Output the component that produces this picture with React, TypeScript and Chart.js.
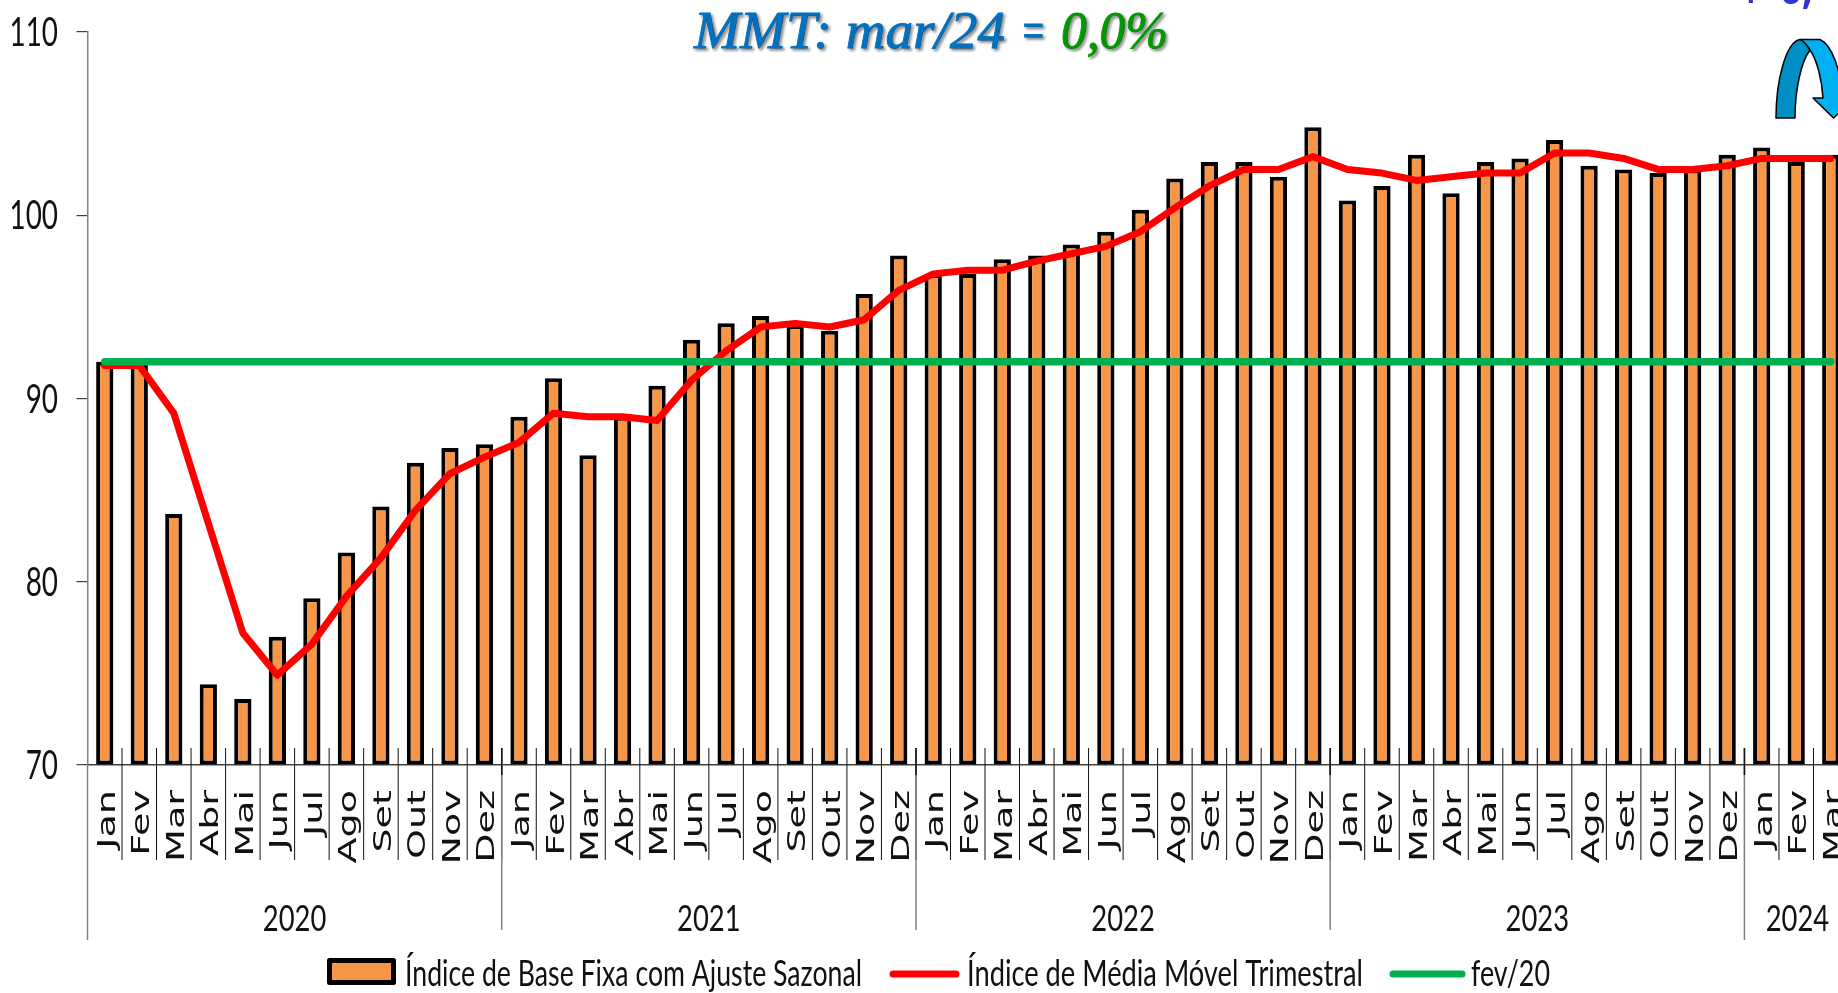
import React, { useEffect, useRef } from "react";
import { Chart, registerables } from "chart.js";

Chart.register(...registerables);

const months = [
  "Jan","Fev","Mar","Abr","Mai","Jun","Jul","Ago","Set","Out","Nov","Dez",
  "Jan","Fev","Mar","Abr","Mai","Jun","Jul","Ago","Set","Out","Nov","Dez",
  "Jan","Fev","Mar","Abr","Mai","Jun","Jul","Ago","Set","Out","Nov","Dez",
  "Jan","Fev","Mar","Abr","Mai","Jun","Jul","Ago","Set","Out","Nov","Dez",
  "Jan","Fev","Mar",
];
const years = ["2020", "2021", "2022", "2023", "2024"];
const yearLengths = [12, 12, 12, 12, 3];

const baseIndex = [
  92.0, 92.2, 83.7, 74.4, 73.6, 77.0, 79.1, 81.6, 84.1, 86.5, 87.3, 87.5,
  89.0, 91.1, 86.9, 89.0, 90.7, 93.2, 94.1, 94.5, 94.0, 93.7, 95.7, 97.8,
  96.8, 96.8, 97.6, 97.8, 98.4, 99.1, 100.3, 102.0, 102.9, 102.9, 102.1, 104.8,
  100.8, 101.6, 103.3, 101.2, 102.9, 103.1, 104.1, 102.7, 102.5, 102.3, 102.5, 103.3,
  103.7, 102.9, 103.3,
];
const movingAverage = [
  91.8, 91.8, 89.2, 83.2, 77.2, 74.9, 76.6, 79.2, 81.3, 83.9, 85.9, 86.8,
  87.6, 89.2, 89.0, 89.0, 88.8, 91.0, 92.6, 93.9, 94.1, 93.9, 94.3, 95.9,
  96.8, 97.0, 97.0, 97.5, 97.9, 98.3, 99.1, 100.4, 101.6, 102.5, 102.5, 103.2,
  102.5, 102.3, 101.9, 102.1, 102.3, 102.3, 103.4, 103.4, 103.1, 102.5, 102.5, 102.7,
  103.1, 103.1, 103.1,
];
const fev20 = [
  92, 92, 92, 92, 92, 92, 92, 92, 92, 92, 92, 92,
  92, 92, 92, 92, 92, 92, 92, 92, 92, 92, 92, 92,
  92, 92, 92, 92, 92, 92, 92, 92, 92, 92, 92, 92,
  92, 92, 92, 92, 92, 92, 92, 92, 92, 92, 92, 92,
  92, 92, 92,
];
const seriesNames = [
  "Índice de Base Fixa com Ajuste Sazonal",
  "Índice de Média Móvel Trimestral",
  "fev/20",
];

const ORANGE = "#F79646";
const RED = "#FF0000";
const GREEN = "#00B050";
const NARROW = "Lato, 'Open Sans', sans-serif";

function fitText(ctx: any, text: string, left: number, baseline: number, width: number, font: string, color: string, stroke = 0) {
  ctx.save();
  ctx.font = font;
  ctx.fillStyle = color;
  ctx.textAlign = "left";
  ctx.textBaseline = "alphabetic";
  const w = ctx.measureText(text).width;
  ctx.translate(left, baseline);
  ctx.scale(width / w, 1);
  if (stroke > 0) {
    ctx.strokeStyle = color;
    ctx.lineWidth = stroke;
    ctx.strokeText(text, 0, 0);
  }
  ctx.fillText(text, 0, 0);
  ctx.restore();
}

function centerText(ctx: any, text: string, cx: number, baseline: number, sx: number, font: string, color: string, align = "center") {
  ctx.save();
  ctx.font = font;
  ctx.fillStyle = color;
  ctx.textAlign = align;
  ctx.textBaseline = "alphabetic";
  ctx.translate(cx, baseline);
  ctx.scale(sx, 1);
  ctx.fillText(text, 0, 0);
  ctx.restore();
}

const decorPlugin = {
  id: "decor",
  afterDraw(chart: any) {
    const { ctx, scales } = chart;
    const x = scales.x;
    const y = scales.y;
    const axisY = y.getPixelForValue(70);
    const half = (x.getPixelForValue(1) - x.getPixelForValue(0)) / 2;

    // y tick labels
    y.ticks.forEach((t: any) => {
      const py = y.getPixelForValue(t.value);
      centerText(ctx, String(t.value), 58, py + 14, 0.68, `41px ${NARROW}`, "#111", "right");
    });

    // y axis continuation below the plot
    ctx.save();
    ctx.strokeStyle = "#808080";
    ctx.lineWidth = 1.5;
    ctx.beginPath();
    ctx.moveTo(x.left, axisY);
    ctx.lineTo(x.left, 940);
    ctx.stroke();
    ctx.restore();

    // month separators and labels
    months.forEach((m, i) => {
      const cx = x.getPixelForValue(i);
      const right = cx + half;
      ctx.save();
      ctx.strokeStyle = "#111";
      ctx.lineWidth = 1;
      ctx.beginPath();
      ctx.moveTo(right, 748);
      ctx.lineTo(right, 860);
      ctx.stroke();
      ctx.restore();

      ctx.save();
      ctx.translate(cx + 10, 790);
      ctx.rotate(-Math.PI / 2);
      ctx.scale(1.55, 1);
      ctx.font = "24.6px 'DejaVu Sans'";
      ctx.fillStyle = "#111";
      ctx.textAlign = "right";
      ctx.textBaseline = "alphabetic";
      ctx.fillText(m, 0, 0);
      ctx.restore();
    });

    // year separators and labels
    let start = 0;
    years.forEach((yr, i) => {
      const n = yearLengths[i];
      const left = x.getPixelForValue(start) - half;
      const right = x.getPixelForValue(start + n - 1) + half;
      if (start > 0) {
        ctx.save();
        ctx.strokeStyle = "#808080";
        ctx.lineWidth = 1.5;
        ctx.beginPath();
        ctx.moveTo(left, 748);
        ctx.lineTo(left, i === years.length - 1 ? 940 : 930);
        ctx.stroke();
        ctx.strokeStyle = "#111";
        ctx.beginPath();
        ctx.moveTo(left, 748);
        ctx.lineTo(left, 775);
        ctx.stroke();
        ctx.restore();
      }
      const cx = n === 3 ? left + 53 : (left + right) / 2;
      centerText(ctx, yr, cx, 931, 0.74, `37px ${NARROW}`, "#111");
      start += n;
    });

    // legend
    ctx.save();
    ctx.fillStyle = ORANGE;
    ctx.strokeStyle = "#000";
    ctx.lineWidth = 5;
    ctx.lineJoin = "round";
    ctx.beginPath();
    ctx.rect(329.5, 960.5, 64, 22);
    ctx.fill();
    ctx.stroke();
    ctx.lineCap = "round";
    ctx.lineWidth = 7;
    ctx.strokeStyle = RED;
    ctx.beginPath();
    ctx.moveTo(893, 974);
    ctx.lineTo(956, 974);
    ctx.stroke();
    ctx.strokeStyle = GREEN;
    ctx.beginPath();
    ctx.moveTo(1393, 974);
    ctx.lineTo(1462, 974);
    ctx.stroke();
    ctx.restore();
    const legendFont = `37px ${NARROW}`;
    fitText(ctx, chart.data.datasets[0].label, 405, 986, 457, legendFont, "#111");
    fitText(ctx, chart.data.datasets[1].label, 967, 986, 396, legendFont, "#111");
    fitText(ctx, chart.data.datasets[2].label, 1471, 986, 79, legendFont, "#111");

    // annotation with shadow
    ctx.save();
    ctx.shadowColor = "rgba(0,0,0,0.45)";
    ctx.shadowOffsetX = 2;
    ctx.shadowOffsetY = 2;
    ctx.shadowBlur = 3;
    const noteFont = "italic 52px 'Liberation Serif'";
    fitText(ctx, "MMT: mar/24", 694, 48, 311, noteFont, "#0070C0", 0.8);
    fitText(ctx, "=", 1020, 48, 26, noteFont, "#0070C0", 0.8);
    fitText(ctx, "0,0%", 1061, 48, 107, noteFont, "#009900", 0.8);
    ctx.restore();

    // clipped note at the top right
    const clipFont = "bold 38px 'Open Sans'";
    centerText(ctx, "+", 1740, 7, 1, clipFont, "#3333CC", "left");
    centerText(ctx, "0,", 1780, 4, 1, clipFont, "#3333CC", "left");
    centerText(ctx, "1%", 1830, 4, 1, clipFont, "#3333CC", "left");

    // curved arrow
    ctx.save();
    ctx.lineWidth = 1.5;
    ctx.strokeStyle = "#000";
    ctx.lineJoin = "round";
    ctx.fillStyle = "#00B0F0";
    ctx.beginPath();
    ctx.moveTo(1800, 39.5);
    ctx.lineTo(1820, 39.5);
    ctx.bezierCurveTo(1832, 45, 1841, 70, 1842, 98);
    ctx.lineTo(1856, 98);
    ctx.lineTo(1833.5, 118);
    ctx.lineTo(1813, 98);
    ctx.lineTo(1823, 98);
    ctx.bezierCurveTo(1822, 80, 1817, 60, 1810, 50);
    ctx.closePath();
    ctx.fill();
    ctx.stroke();
    ctx.fillStyle = "#008FC4";
    ctx.beginPath();
    ctx.moveTo(1776, 118);
    ctx.lineTo(1795, 118);
    ctx.bezierCurveTo(1795, 90, 1801, 62, 1810, 50);
    ctx.bezierCurveTo(1807, 45, 1804, 41, 1800, 39.5);
    ctx.bezierCurveTo(1786, 42, 1776, 80, 1776, 118);
    ctx.closePath();
    ctx.fill();
    ctx.stroke();
    ctx.restore();
  },
};

export default function App() {
  const ref = useRef<HTMLCanvasElement>(null);
  useEffect(() => {
    if (!ref.current) return;
    const chart = new Chart(ref.current, {
      type: "bar",
      data: {
        labels: months,
        datasets: [
          {
            type: "bar",
            label: seriesNames[0],
            data: baseIndex,
            backgroundColor: ORANGE,
            borderColor: "#000",
            borderWidth: 4,
            borderSkipped: false,
            borderRadius: 0,
            barPercentage: 0.5,
            categoryPercentage: 1,
            base: 70,
            order: 3,
          },
          {
            type: "line",
            label: seriesNames[1],
            data: movingAverage,
            borderColor: RED,
            borderWidth: 7,
            pointRadius: 0,
            tension: 0,
            borderCapStyle: "round",
            borderJoinStyle: "round",
            order: 2,
          },
          {
            type: "line",
            label: seriesNames[2],
            data: fev20,
            borderColor: GREEN,
            borderWidth: 7.5,
            pointRadius: 0,
            tension: 0,
            borderCapStyle: "round",
            order: 1,
          },
        ],
      } as any,
      options: {
        responsive: false,
        animation: false,
        devicePixelRatio: 1,
        layout: { padding: { left: 76.5, top: 32, right: 52, bottom: 220 } },
        plugins: { legend: { display: false }, tooltip: { enabled: false } },
        scales: {
          x: {
            type: "category",
            offset: true,
            grid: { display: false },
            border: { color: "#404040", width: 1.5 },
            ticks: { display: false },
          },
          y: {
            min: 70,
            max: 110,
            grid: { drawOnChartArea: false, drawTicks: true, tickLength: 11, color: "#404040", lineWidth: 1.2 },
            border: { color: "#808080", width: 1.5 },
            ticks: { display: false, stepSize: 10 },
          },
        },
      } as any,
      plugins: [decorPlugin],
    });
    return () => chart.destroy();
  }, []);
  return (
    <div style={{ position: "fixed", left: 0, top: 0, width: 1838, height: 993, overflow: "hidden", background: "#fff" }}>
      <canvas ref={ref} width={1900} height={993} style={{ display: "block" }} />
    </div>
  );
}
